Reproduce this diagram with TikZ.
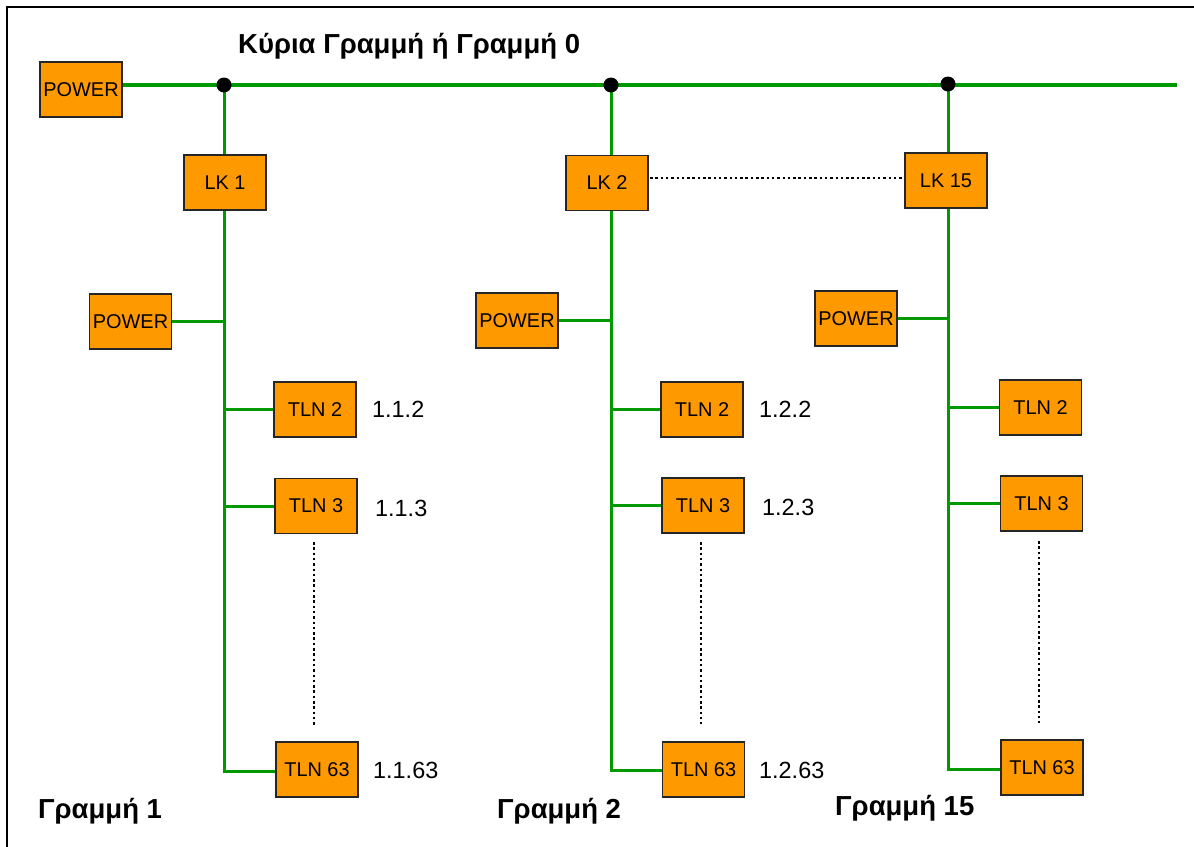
\documentclass[tikz,border=0pt]{standalone}
\usepackage{fontspec}
\setmainfont{Liberation Sans}
\definecolor{boxorange}{RGB}{255,153,0}
\definecolor{busgreen}{RGB}{0,153,0}
\newcommand\bxfont{\fontsize{20}{23}\selectfont}
\newcommand\adrfont{\fontsize{23.5}{26}\selectfont}
\newcommand\ttlfont{\fontsize{27.6}{31}\selectfont\bfseries}
\tikzset{
  box/.style={draw=black!85, line width=1.5bp, fill=boxorange, minimum width=82bp, minimum height=55bp, inner sep=0pt, font=\bxfont},
  bus/.style={draw=busgreen, line width=3.4bp},
  wire/.style={draw=busgreen, line width=3bp},
  dotline/.style={draw=black, line width=2.8bp, dash pattern=on 2.5bp off 2.8bp},
  adr/.style={anchor=west, inner sep=0pt, font=\adrfont},
  ttl/.style={anchor=base west, inner sep=0pt, font=\ttlfont},
}
\begin{document}
\begin{tikzpicture}[x=1bp,y=-1bp]
\useasboundingbox (0,0) rectangle (1194,847);
\fill[white] (0,0) rectangle (1194,847);
\draw[line width=2bp] (7,847) -- (7,7) -- (1194,7);

% nodes
\node[box] (pw0) at (81,89.5) {POWER};
\node[box] (lk1) at (225,182.5) {LK 1};
\node[box] (lk2) at (607,183) {LK 2};
\node[box] (lk15) at (946,180.5) {LK 15};

\node[box] (pwA) at (130.5,321.5) {POWER};
\node[box] (t12) at (315,409.5) {TLN 2};
\node[box] (t13) at (316,506) {TLN 3};
\node[box] (t163) at (317,769.5) {TLN 63};

\node[box] (pwB) at (517,320.5) {POWER};
\node[box] (t22) at (702,409.5) {TLN 2};
\node[box] (t23) at (703,505.5) {TLN 3};
\node[box] (t263) at (703.5,769.5) {TLN 63};

\node[box] (pwC) at (856,318.5) {POWER};
\node[box] (t32) at (1040.5,407.5) {TLN 2};
\node[box] (t33) at (1041.5,503.5) {TLN 3};
\node[box] (t363) at (1042,767.5) {TLN 63};

% bus coordinates
\coordinate (d1) at (224,85);
\coordinate (d2) at (611,85);
\coordinate (d3) at (948,84);
\coordinate (mend) at (1177,85);
\coordinate (e1) at (224,771);
\coordinate (e2) at (611,770);
\coordinate (e3) at (948,769);

% main line
\draw[bus] (pw0.east |- d1) -- (mend);

% line 1
\draw[wire] (d1) -- (d1 |- lk1.north);
\draw[wire] (lk1.south -| d1) -- (e1) -- (e1 -| t163.west);
\draw[wire] (pwA.east) -- (pwA.east -| d1);
\draw[wire] (t12.west -| d1) -- (t12.west);
\draw[wire] (t13.west -| d1) -- (t13.west);

% line 2
\draw[wire] (d2) -- (d2 |- lk2.north);
\draw[wire] (lk2.south -| d2) -- (e2) -- (e2 -| t263.west);
\draw[wire] (pwB.east) -- (pwB.east -| d2);
\draw[wire] (t22.west -| d2) -- (t22.west);
\draw[wire] (t23.west -| d2) -- (t23.west);

% line 15
\draw[wire] (d3) -- (d3 |- lk15.north);
\draw[wire] (lk15.south -| d3) -- (e3) -- (e3 -| t363.west);
\draw[wire] (pwC.east) -- (pwC.east -| d3);
\draw[wire] (t32.west -| d3) -- (t32.west);
\draw[wire] (t33.west -| d3) -- (t33.west);

% junction dots
\fill (d1) circle (7.5bp);
\fill (d2) circle (7.5bp);
\fill (d3) circle (7.5bp);

% dotted lines
\coordinate (dl) at (650,178);
\draw[dotline] (dl) -- (dl -| lk15.west);
\coordinate (v1a) at (314,542); \coordinate (v1b) at (314,725);
\coordinate (v2a) at (701,542); \coordinate (v2b) at (701,724);
\coordinate (v3a) at (1039,541); \coordinate (v3b) at (1039,723);
\draw[dotline] (v1a) -- (v1b);
\draw[dotline] (v2a) -- (v2b);
\draw[dotline] (v3a) -- (v3b);

% address labels
\node[adr] (a112) at (372,409.5) {1.1.2};
\node[adr] (a113) at (375,508) {1.1.3};
\node[adr] (a1163) at (373,770) {1.1.63};
\node[adr] (a122) at (759,409.5) {1.2.2};
\node[adr] (a123) at (762,507) {1.2.3};
\node[adr] (a1263) at (759,770) {1.2.63};

% titles
\node[ttl] (title) at (238,53) {Κύρια Γραμμή ή Γραμμή 0};
\node[ttl] (g1) at (38,818) {Γραμμή 1};
\node[ttl] (g2) at (497,818) {Γραμμή 2};
\node[ttl] (g15) at (835,815) {Γραμμή 15};
\end{tikzpicture}
\end{document}
